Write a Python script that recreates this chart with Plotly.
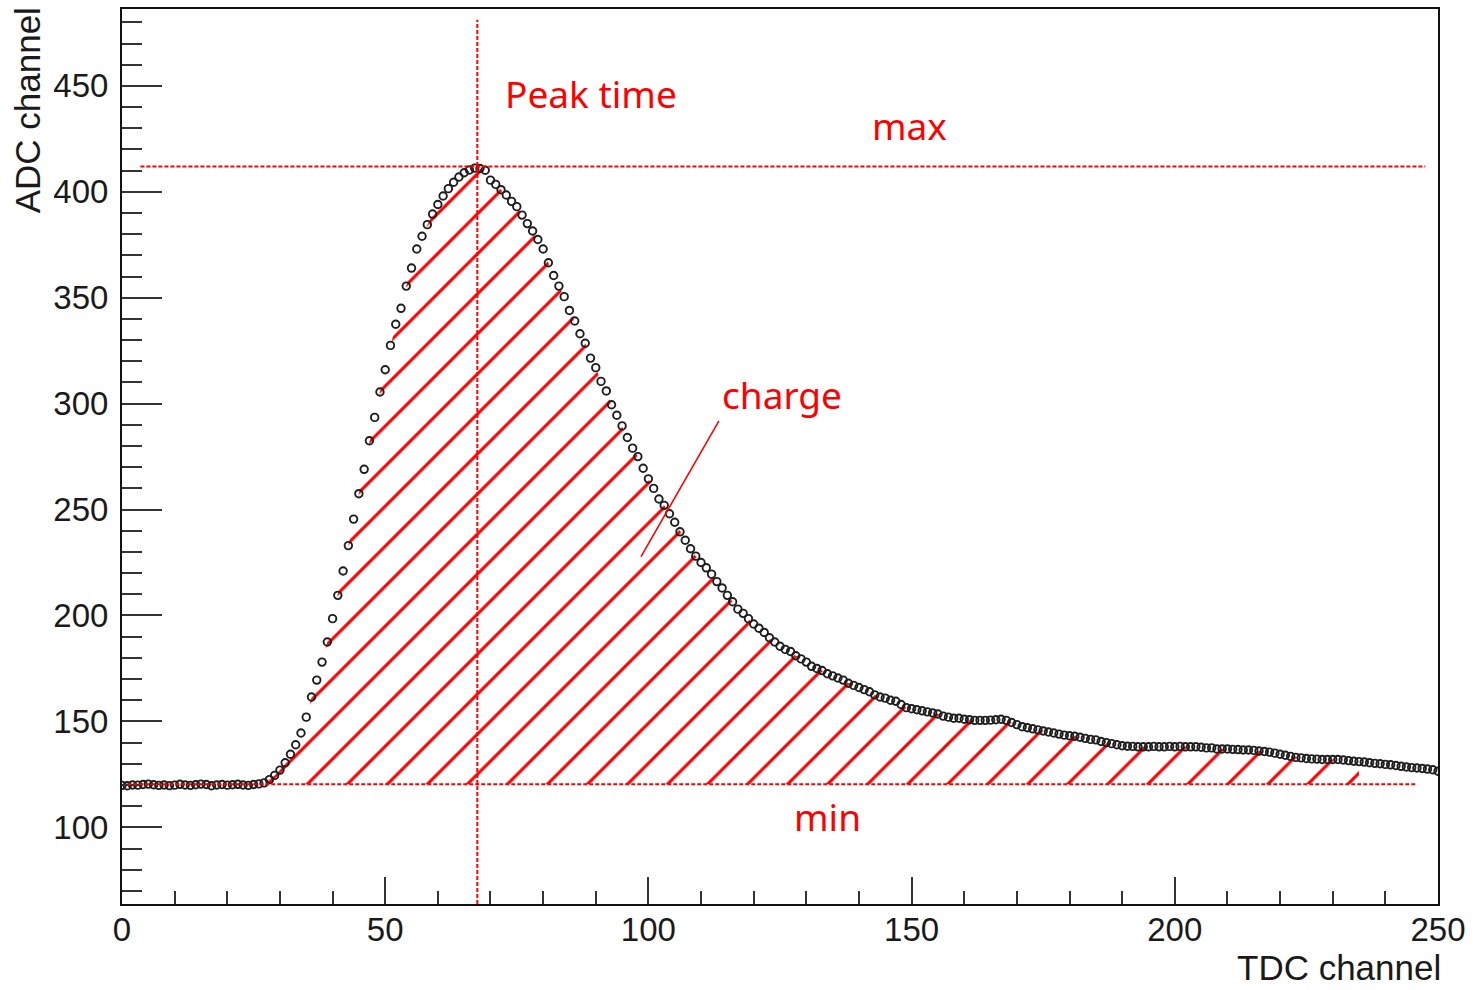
import plotly.graph_objects as go

# TDC channel axis (one sample per channel)
tdc = list(range(251))

# ADC value of each sample
adc = [
    # 0-26: pedestal
    119.8, 119.6, 120.0, 119.9, 120.2, 120.4, 120.1, 119.8, 120.0, 119.7,
    119.9, 120.3, 120.0, 119.8, 120.1, 120.4, 120.2, 119.6, 120.0, 120.2,
    119.9, 120.1, 120.3, 120.0, 119.8, 120.2, 120.5,
    # 27-69: leading edge and peak
    121.0, 122.5, 124.5, 127.0, 130.5, 134.5, 139.0, 144.5, 152.0, 161.5,
    169.5, 178.0, 187.5, 198.5, 209.5, 221.0, 233.0, 245.5, 257.5, 269.0,
    282.5, 293.5, 305.5, 316.0, 327.5, 337.5, 345.0, 355.5, 364.0, 373.0,
    379.0, 384.5, 389.5, 394.0, 398.0, 401.5, 404.5, 407.0, 409.0, 410.3,
    411.2, 411.0, 410.2,
    # 70-109: falling edge
    405.5, 403.5, 401.0, 398.5, 395.5, 393.0, 389.0, 385.0, 381.5, 377.5,
    373.0, 366.5, 360.5, 355.5, 350.5, 344.0, 339.0, 333.0, 328.5, 321.5,
    317.0, 310.5, 306.0, 299.5, 294.5, 289.5, 284.0, 279.0, 275.0, 269.5,
    264.5, 260.0, 255.0, 252.0, 248.0, 244.0, 239.5, 235.5, 231.5, 228.0,
    # 110-169: tail
    225.0, 222.5, 219.5, 216.0, 213.0, 209.5, 206.5, 203.0, 201.0, 198.5,
    196.0, 194.0, 192.0, 189.5, 187.5, 185.5, 184.0, 183.0, 181.0, 179.5,
    178.0, 176.0, 175.0, 174.0, 172.5, 171.5, 170.5, 169.5, 168.0, 167.0,
    166.0, 165.0, 164.0, 162.5, 161.5, 161.0, 160.0, 159.5, 158.0, 156.5,
    156.0, 155.5, 155.0, 154.5, 154.0, 153.5, 152.5, 152.0, 151.5, 151.5,
    151.0, 150.8, 150.5, 150.5, 150.5, 150.6, 150.8, 151.0, 150.5, 149.5,
    # 170-250: slow tail
    148.5, 147.5, 147.0, 146.5, 146.0, 145.5, 145.0, 144.5, 144.0, 143.5,
    143.2, 143.0, 142.5, 142.0, 141.5, 141.3, 140.5, 140.0, 139.5, 139.0,
    138.5, 138.3, 138.2, 138.0, 138.0, 138.0, 138.2, 138.0, 138.0, 138.2,
    138.0, 138.2, 138.0, 138.0, 138.0, 137.8, 137.5, 137.5, 137.0, 137.0,
    137.0, 136.8, 136.7, 136.5, 136.5, 136.3, 136.0, 135.8, 135.5, 135.0,
    134.5, 134.0, 133.5, 133.0, 132.8, 132.5, 132.3, 132.2, 132.0, 132.0,
    132.0, 132.0, 131.8, 131.5, 131.2, 131.0, 130.8, 130.5, 130.2, 130.0,
    129.7, 129.5, 129.2, 128.8, 128.5, 128.2, 128.0, 127.8, 127.5, 127.2,
    126.5,
]

# Reference quantities
peak_time = 67.5
adc_max = 412.0
adc_min = 120.3

# Integration window for the charge
charge_start = 27
charge_stop = 235

# Axis ranges and ticks
x_range = [0, 250]
y_range = [63.8, 486.3]
x_major, x_minor = 50, 10
y_major, y_minor = 50, 10

RED = "#ff0000"
AXIS_FONT = dict(family="Liberation Sans, Arial, sans-serif", size=33, color="#1a1a1a")
NOTE_FONT = dict(family="Noto Sans, sans-serif", size=37, color=RED)

fig = go.Figure()

# Hatched charge area between the pulse and the pedestal level
win_x = [t for t in tdc if charge_start <= t <= charge_stop]
win_y = [adc[t] for t in win_x]
poly_x = win_x + win_x[::-1]
poly_y = win_y + [adc_min] * len(win_x)
fig.add_trace(go.Scatter(
    x=poly_x, y=poly_y, mode="lines", fill="toself",
    line=dict(width=0, color="rgba(0,0,0,0)"),
    fillcolor="rgba(0,0,0,0)",
    fillpattern=dict(shape="/", size=28.3, solidity=0.11, fgopacity=1,
                     fgcolor=RED, bgcolor="rgba(0,0,0,0)", fillmode="replace"),
    hoverinfo="skip", showlegend=False,
))

# Sampled waveform
fig.add_trace(go.Scatter(
    x=tdc, y=adc, mode="markers",
    marker=dict(symbol="circle-open", size=7.5, color="#1e1e1e",
                line=dict(width=1.9, color="#1e1e1e")),
    showlegend=False,
))

# Dashed guide lines: max, min, peak time
dash = "4px,2px"
fig.add_shape(type="line", xref="x", yref="y", x0=3.5, x1=247.6, y0=adc_max, y1=adc_max,
              line=dict(color=RED, width=2, dash=dash), layer="above")
fig.add_shape(type="line", xref="x", yref="y", x0=1.0, x1=245.7, y0=adc_min, y1=adc_min,
              line=dict(color=RED, width=2, dash=dash), layer="above")
fig.add_shape(type="line", xref="x", yref="y", x0=peak_time, x1=peak_time, y0=y_range[0], y1=481.2,
              line=dict(color=RED, width=2, dash=dash), layer="above")

# Pointer from the "charge" label into the hatched area
fig.add_shape(type="line", xref="x", yref="y", x0=113.4, y0=291.9, x1=98.6, y1=227.8,
              line=dict(color=RED, width=1.6), layer="above")

# Labels
notes = [
    ("Peak time", 89.0, 446.5),
    ("max", 149.6, 431.5),
    ("charge", 125.3, 304.5),
    ("min", 134.1, 105.0),
]
for text, nx, ny in notes:
    fig.add_annotation(x=nx, y=ny, xref="x", yref="y", text=text, showarrow=False,
                       font=NOTE_FONT, xanchor="center", yanchor="middle")

# Axis titles, aligned to the end of each axis
fig.add_annotation(text="TDC channel", xref="paper", yref="paper", x=1.004, y=-0.071,
                   xanchor="right", yanchor="middle", showarrow=False,
                   font=dict(family=AXIS_FONT["family"], size=35, color="#1a1a1a"))
fig.add_annotation(text="ADC channel", xref="paper", yref="paper", x=-0.0715, y=1.004,
                   xanchor="center", yanchor="top", textangle=-90, showarrow=False,
                   font=dict(family=AXIS_FONT["family"], size=35, color="#1a1a1a"))

axis_common = dict(
    showgrid=False, zeroline=False,
    showline=True, linecolor="#111111", linewidth=2, mirror=True,
    ticks="inside", tickwidth=2, tickcolor="#333333",
    tickfont=AXIS_FONT,
)
fig.update_xaxes(range=x_range, tick0=0, dtick=x_major, ticklen=27,
                 minor=dict(ticks="inside", dtick=x_minor, ticklen=13, tickwidth=2,
                            tickcolor="#333333"),
                 ticklabelstandoff=-5, **axis_common)
fig.update_yaxes(range=y_range, tick0=0, dtick=y_major, ticklen=40,
                 minor=dict(ticks="inside", dtick=y_minor, ticklen=20, tickwidth=2,
                            tickcolor="#333333"),
                 ticklabelstandoff=5, **axis_common)

fig.update_layout(
    width=1473, height=990,
    margin=dict(l=122, r=32, t=7, b=86),
    paper_bgcolor="white", plot_bgcolor="white",
    showlegend=False,
)

fig.write_html("out.html")
